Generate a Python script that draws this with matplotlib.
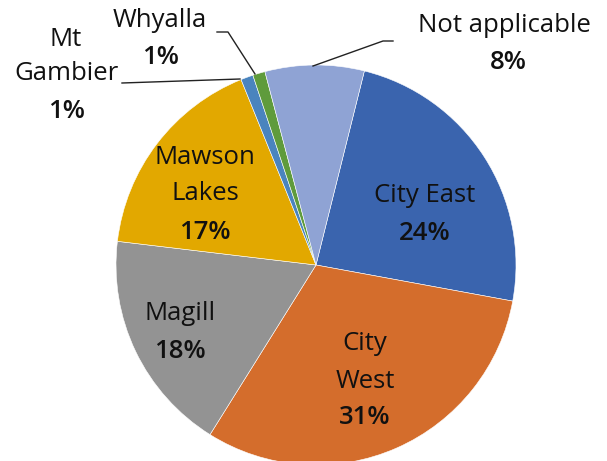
import matplotlib
matplotlib.use("Agg")
import matplotlib.pyplot as plt

# campus share, clockwise starting just right of 12 o'clock
campuses = ["City East", "City West", "Magill", "Mawson Lakes",
            "Mt Gambier", "Whyalla", "Not applicable"]
shares = [24, 31, 18, 17, 1, 1, 8]
colors = ["#3A64AE", "#D46D2C", "#939393", "#E2A800",
          "#4A84BE", "#5F9B3C", "#8FA3D4"]

plt.rcParams["font.family"] = ["Open Sans", "DejaVu Sans"]

W, H = 607, 461
fig = plt.figure(figsize=(W / 100, H / 100), dpi=100)
ax = fig.add_axes([0, 0, 1, 1])

cx, cy, r = 316, H - 265, 200
ax.pie(shares, colors=colors, startangle=76, counterclock=False,
       center=(cx, cy), radius=r, frame=True,
       wedgeprops=dict(linewidth=0.4, edgecolor="white"))
ax.set_xlim(0, W)
ax.set_ylim(0, H)
ax.set_aspect("equal")
ax.axis("off")

# label placement in pixel coords (x, first-line y, percent y from top)
label_pos = {
    "City East": (425, 195, 234, ["City East"]),
    "City West": (365, 344, 418, ["City", "West"]),
    "Magill": (180, 313, 352, ["Magill"]),
    "Mawson Lakes": (205, 157, 233, ["Mawson", "Lakes"]),
    "Mt Gambier": (66, 40, 112, ["Mt", "Gambier"]),
    "Whyalla": (160, 21, 58, ["Whyalla"]),
    "Not applicable": (504, 26, 63, ["Not applicable"]),
}
fs = 18.5
for name, val in zip(campuses, shares):
    x, y0, yp, lines = label_pos[name]
    px = x + 4 if name == "Not applicable" else x
    step = 34 if name == "Mt Gambier" else 37
    for i, t in enumerate(lines):
        ax.text(x, H - (y0 + i * step), t,
                ha="center", va="center", fontsize=fs, color="#111111")
    ax.text(px, H - yp, f"{val}%", ha="center", va="center",
            fontsize=fs, fontweight="semibold", color="#111111")

# leader lines
lk = dict(color="#222222", lw=1.0)
ax.plot([217, 228, 255], [H - 32, H - 32, H - 74], **lk)
ax.plot([122, 240], [H - 83, H - 79], **lk)
ax.plot([393, 383, 313], [H - 41, H - 41, H - 66], **lk)

fig.savefig("out.png", dpi=100)
